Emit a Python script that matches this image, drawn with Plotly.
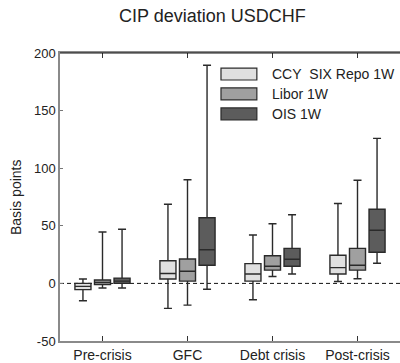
import plotly.graph_objects as go

categories = ["Pre-crisis", "GFC", "Debt crisis", "Post-crisis"]
series_names = ["CCY\u00a0 SIX Repo 1W", "Libor 1W", "OIS 1W"]

ccy_low = [-15.1, -21.7, -14.2, 1.7]
ccy_q1 = [-5.4, 3.8, 2.0, 8.1]
ccy_med = [-2.6, 8.6, 8.1, 13.7]
ccy_q3 = [0.0, 19.7, 17.2, 24.4]
ccy_high = [3.8, 68.7, 42.0, 69.3]

libor_low = [-4.0, -18.9, 6.0, 4.0]
libor_q1 = [-1.1, 2.0, 11.5, 11.5]
libor_med = [0.8, 10.6, 14.9, 15.8]
libor_q3 = [2.9, 21.2, 24.0, 30.4]
libor_high = [44.6, 90.0, 51.8, 89.6]

ois_low = [-4.0, -5.1, 8.1, 17.5]
ois_q1 = [0.0, 15.8, 14.9, 27.0]
ois_med = [2.0, 29.2, 20.9, 46.1]
ois_q3 = [4.6, 57.0, 30.4, 64.4]
ois_high = [47.0, 189.4, 59.6, 125.9]

y_ticks = [-50, 0, 50, 100, 150, 200]
y_tick_labels = ["-50", "0", "50", "100", "150", "200"]

fills = ["#e0e0e0", "#a0a0a0", "#5c5c5c"]
stats = [
    (ccy_low, ccy_q1, ccy_med, ccy_q3, ccy_high),
    (libor_low, libor_q1, libor_med, libor_q3, libor_high),
    (ois_low, ois_q1, ois_med, ois_q3, ois_high),
]

fig = go.Figure()
for name, fill, (lo, q1, med, q3, hi) in zip(series_names, fills, stats):
    fig.add_trace(go.Box(
        name=name, x=categories, q1=q1, median=med, q3=q3,
        lowerfence=lo, upperfence=hi, boxpoints=False,
        fillcolor=fill, line=dict(color="#2a2a2a", width=1.4),
        whiskerwidth=0.5, showlegend=False,
    ))

font = "Liberation Sans, Arial, sans-serif"
fig.update_layout(
    width=400, height=363,
    margin=dict(l=60, r=0, t=53, b=19),
    paper_bgcolor="white", plot_bgcolor="white",
    boxmode="group", boxgap=0.31, boxgroupgap=0.18,
    font=dict(family=font, color="#222", size=13),
    xaxis=dict(
        range=[-0.5, 3.5], showline=True, linecolor="#8a8a8a", linewidth=1.5,
        mirror="ticks", ticks="inside", ticklen=5, tickcolor="#333",
        showgrid=False, zeroline=False, tickfont=dict(size=14, color="#222"),
    ),
    yaxis=dict(
        range=[-50, 200], tickvals=y_ticks, ticktext=y_tick_labels,
        showline=True, linecolor="#8a8a8a",
        linewidth=1.5, ticks="inside", ticklen=3, tickcolor="#777",
        showgrid=False, zeroline=False, tickfont=dict(size=13, color="#222"),
    ),
    yaxis2=dict(
        range=[-50, 200], tickvals=y_ticks, overlaying="y", side="right",
        showline=False, ticks="inside", ticklen=4, tickcolor="#777",
        showticklabels=False, showgrid=False, zeroline=False,
    ),
)

# zero dashed line
fig.add_shape(type="line", xref="paper", yref="y", x0=0, x1=1, y0=0, y1=0,
              line=dict(color="#111", width=1, dash="4px,3px"), layer="below")
# black top frame line
fig.add_shape(type="line", xref="paper", yref="paper", x0=0, x1=1, y0=1, y1=1,
              line=dict(color="#111", width=1.2))

# manual legend
leg_x0, leg_x1 = 0.4735, 0.579
row_centers = [0.9268, 0.858, 0.7887]
half_h = 0.0206
for name, fill, yc in zip(series_names, fills, row_centers):
    fig.add_shape(type="rect", xref="paper", yref="paper",
                  x0=leg_x0, x1=leg_x1, y0=yc - half_h, y1=yc + half_h,
                  fillcolor=fill, line=dict(color="#2a2a2a", width=1.2))
    fig.add_annotation(xref="paper", yref="paper", x=0.618, y=yc, text=name,
                       showarrow=False, xanchor="left", yanchor="middle",
                       font=dict(size=14, color="#222"))

fig.add_annotation(xref="paper", yref="paper", x=(212 - 60) / 340, y=1, yshift=37,
                   text="CIP deviation USDCHF", showarrow=False,
                   xanchor="center", yanchor="middle", font=dict(size=18, color="#222"))
fig.add_annotation(xref="paper", yref="paper", x=(16 - 60) / 340, y=0.5,
                   text="Basis points", textangle=-90, showarrow=False,
                   xanchor="center", yanchor="middle", font=dict(size=14, color="#222"))

fig.write_html("out.html")
